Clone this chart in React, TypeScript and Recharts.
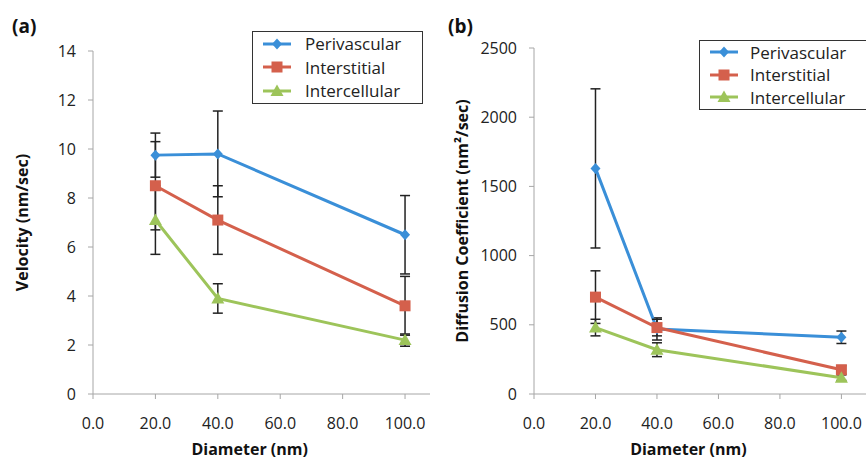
import React from "react";
import { LineChart, Line, XAxis, YAxis, ErrorBar, Legend } from "recharts";

const diameters = [20, 40, 100];
const seriesNames = ["Perivascular", "Interstitial", "Intercellular"];

const periVelocity = [9.75, 9.8, 6.5];
const periVelocityErr = [0.9, 1.75, 1.6];
const interVelocity = [8.5, 7.1, 3.6];
const interVelocityErr = [1.8, 1.4, 1.2];
const cellVelocity = [7.1, 3.9, 2.2];
const cellVelocityErr = [1.4, 0.6, 0.25];

const periDiffusion = [1630, 470, 410];
const periDiffusionErr = [575, 80, 45];
const interDiffusion = [700, 480, 175];
const interDiffusionErr = [190, 60, 30];
const cellDiffusion = [480, 320, 118];
const cellDiffusionErr = [60, 50, 20];

const xTicks = [0, 20, 40, 60, 80, 100];
const velocityTicks = [0, 2, 4, 6, 8, 10, 12, 14];
const diffusionTicks = [0, 500, 1000, 1500, 2000, 2500];

const COLORS = ["#3a8fd8", "#d4604c", "#9dc45a"];
const SHAPES = ["diamond", "square", "triangle"];
const FONT = "'Open Sans', 'Liberation Sans', sans-serif";
const AXIS_GRAY = "#a6a6a6";

const velocityData = diameters.map((d, i) => ({
    d,
    peri: periVelocity[i],
    periErr: periVelocityErr[i],
    inter: interVelocity[i],
    interErr: interVelocityErr[i],
    cell: cellVelocity[i],
    cellErr: cellVelocityErr[i],
}));

const diffusionData = diameters.map((d, i) => ({
    d,
    peri: periDiffusion[i],
    periErr: periDiffusionErr[i],
    inter: interDiffusion[i],
    interErr: interDiffusionErr[i],
    cell: cellDiffusion[i],
    cellErr: cellDiffusionErr[i],
}));

function Marker({ cx, cy, shape, color }: { cx: number; cy: number; shape: string; color: string }) {
    if (shape === "diamond") {
        return <polygon points={`${cx},${cy - 5.5} ${cx + 5},${cy} ${cx},${cy + 5.5} ${cx - 5},${cy}`} fill={color} />;
    }
    if (shape === "square") {
        return <rect x={cx - 5.5} y={cy - 5.5} width={11} height={11} fill={color} />;
    }
    return <polygon points={`${cx},${cy - 6.5} ${cx + 6.5},${cy + 5} ${cx - 6.5},${cy + 5}`} fill={color} />;
}

function LegendBox({ width, rowHeight, textOffset }: { width: number; rowHeight: number; textOffset: number }) {
    return (
        <div
            style={{
                width,
                border: "1.5px solid #333",
                background: "#fff",
                fontFamily: FONT,
                fontSize: 17,
                color: "#222",
            }}
        >
            {seriesNames.map((name, i) => (
                <div key={name} style={{ display: "flex", alignItems: "center", height: rowHeight }}>
                    <svg width={textOffset} height={14} style={{ marginLeft: 10, flex: "none" }}>
                        <line x1={0} y1={7} x2={28} y2={7} stroke={COLORS[i]} strokeWidth={3} />
                        <Marker cx={14} cy={7} shape={SHAPES[i]} color={COLORS[i]} />
                    </svg>
                    <span style={{ whiteSpace: "nowrap" }}>{name}</span>
                </div>
            ))}
        </div>
    );
}

function Panel({
    data,
    ticks,
    domainMax,
    yTitle,
    yTitleX,
    marginLeft,
    yAxisWidth,
    marginTop,
    marginRight,
    legendLeft,
    legendTop,
    legendWidth,
    legendRow,
    legendTextOffset,
}: any) {
    const keys = ["peri", "inter", "cell"];
    return (
        <LineChart
            width={433}
            height={460}
            data={data}
            margin={{ top: marginTop, right: marginRight, left: marginLeft, bottom: 6 }}
        >
            <XAxis
                dataKey="d"
                type="number"
                domain={[0, 108]}
                ticks={xTicks}
                tickFormatter={(v: number) => v.toFixed(1)}
                height={60}
                tickSize={5}
                tickMargin={19}
                stroke={AXIS_GRAY}
                tick={{ fill: "#222", fontSize: 16, fontFamily: FONT }}
                label={{
                    content: (props: any) => {
                        const vb = props.viewBox;
                        return (
                            <text
                                x={vb.x + vb.width * 0.465}
                                y={vb.y + 61}
                                textAnchor="middle"
                                fontFamily={FONT}
                                fontWeight="bold"
                                fontSize={16}
                                fill="#111"
                            >
                                Diameter (nm)
                            </text>
                        );
                    },
                }}
            />
            <YAxis
                type="number"
                domain={[0, domainMax]}
                ticks={ticks}
                width={yAxisWidth}
                tickSize={5}
                tickMargin={12}
                stroke={AXIS_GRAY}
                interval={0}
                tick={{ fill: "#222", fontSize: 16, fontFamily: FONT }}
                label={{
                    content: (props: any) => {
                        const vb = props.viewBox;
                        const cy = vb.y + vb.height / 2;
                        return (
                            <text
                                x={yTitleX}
                                y={cy}
                                transform={`rotate(-90 ${yTitleX} ${cy})`}
                                textAnchor="middle"
                                dominantBaseline="central"
                                fontFamily={FONT}
                                fontWeight="bold"
                                fontSize={16}
                                fill="#111"
                            >
                                {yTitle}
                            </text>
                        );
                    },
                }}
            />
            <Legend
                layout="vertical"
                align="center"
                verticalAlign="middle"
                wrapperStyle={{ left: legendLeft, top: legendTop, width: legendWidth + 4 }}
                content={() => <LegendBox width={legendWidth} rowHeight={legendRow} textOffset={legendTextOffset} />}
            />
            {keys.map((k, i) => (
                <Line
                    key={k}
                    dataKey={k}
                    name={seriesNames[i]}
                    stroke={COLORS[i]}
                    strokeWidth={3}
                    isAnimationActive={false}
                    dot={(p: any) => (
                        <Marker key={`${k}-${p.index}`} cx={p.cx} cy={p.cy} shape={SHAPES[i]} color={COLORS[i]} />
                    )}
                    activeDot={false}
                >
                    <ErrorBar dataKey={`${k}Err`} width={5} strokeWidth={1.5} stroke="#222" direction="y" />
                </Line>
            ))}
        </LineChart>
    );
}

export default function App() {
    return (
        <div style={{ position: "absolute", left: 0, top: 0, width: 866, height: 460, background: "#fff", overflow: "hidden" }}>
            <div style={{ position: "absolute", left: 0, top: 0 }}>
                <Panel
                    data={velocityData}
                    ticks={velocityTicks}
                    domainMax={14}
                    yTitle="Velocity (nm/sec)"
                    yTitleX={22}
                    marginLeft={30}
                    yAxisWidth={63}
                    marginTop={51}
                    marginRight={3}
                    legendLeft={252}
                    legendTop={31}
                    legendWidth={169}
                    legendRow={23.5}
                    legendTextOffset={42}
                />
            </div>
            <div style={{ position: "absolute", left: 433, top: 0 }}>
                <Panel
                    data={diffusionData}
                    ticks={diffusionTicks}
                    domainMax={2500}
                    yTitle="Diffusion Coefficient (nm²/sec)"
                    yTitleX={29}
                    marginLeft={30}
                    yAxisWidth={71}
                    marginTop={48}
                    marginRight={0}
                    legendLeft={266}
                    legendTop={40}
                    legendWidth={175}
                    legendRow={22.5}
                    legendTextOffset={40}
                />
            </div>
            <div style={{ position: "absolute", left: 12, top: 13, fontFamily: FONT, fontWeight: "bold", fontSize: 19, color: "#111" }}>
                (a)
            </div>
            <div style={{ position: "absolute", left: 448, top: 13, fontFamily: FONT, fontWeight: "bold", fontSize: 19, color: "#111" }}>
                (b)
            </div>
        </div>
    );
}
